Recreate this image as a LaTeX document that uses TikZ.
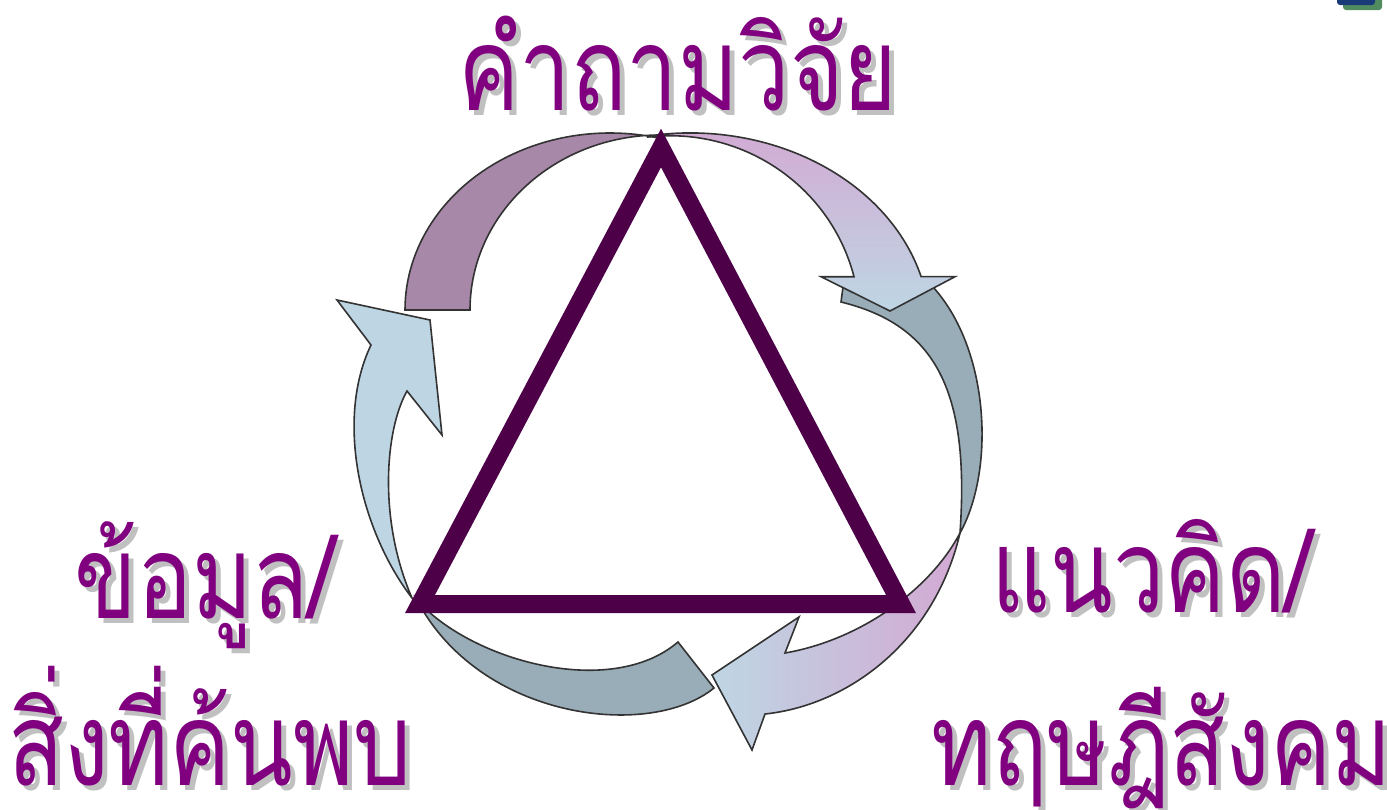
\documentclass[tikz,border=0pt]{standalone}
\usepackage{fontspec}
\newfontfamily\thaifont[Script=Thai,FakeStretch=0.79]{Loma}
\definecolor{tri}{RGB}{77,0,72}
\definecolor{tpurple}{RGB}{128,0,128}
\definecolor{shgray}{RGB}{192,192,192}
\definecolor{mauve}{RGB}{168,136,168}
\definecolor{pinkA}{RGB}{211,169,211}
\definecolor{blueA}{RGB}{190,214,228}
\definecolor{grayB}{RGB}{153,173,184}
\definecolor{edgec}{RGB}{51,51,51}
\definecolor{logoblue}{RGB}{25,60,120}
\definecolor{logogreen}{RGB}{80,140,95}
\newcommand\shtext[1]{\makebox[0pt][l]{\hspace{5pt}\raisebox{-5pt}{\textcolor{shgray}{#1}}}#1}
\begin{document}
\begin{tikzpicture}[x=1pt,y=-1pt,
  band/.style={draw=edgec,line width=1.6pt,line join=miter},
  trio/.style={draw=tri,line width=18pt,line join=miter,miter limit=10},
  lbl/.style={font=\thaifont\fontsize{116}{140}\selectfont,text=tpurple,inner sep=0pt,anchor=base,text depth=0pt}]
\useasboundingbox (0,0) rectangle (1387,809);
% logo fragment
\fill[logogreen,rounded corners=3pt] (1343,-4) rectangle (1382,10);
\fill[logoblue,rounded corners=3pt] (1337,-8) rectangle (1375,5);
% gray right band
\path[band,fill=grayB] (843,287) -- (841,302)
  .. controls (935,325) and (970,390) .. (960,533)
  .. controls (995,470) and (990,350) .. (933,287)
  -- cycle;
% gray bottom band
\path[band,fill=grayB] (417,600)
  .. controls (470,660) and (610,700) .. (678,642)
  -- (714,688)
  .. controls (650,740) and (480,720) .. (417,600)
  -- cycle;
% mauve top-left band
\path[band,fill=mauve] (405,310) arc[start angle=180,end angle=284,x radius=205,y radius=177]
  -- (660,135) arc[start angle=270,end angle=180,x radius=190,y radius=175] -- cycle;
% top-right arrow
\path[band,top color=pinkA,bottom color=blueA]
  (660,134.5) arc[start angle=262.8,end angle=344.3,x radius=240,y radius=197]
  -- (955,276.7) -- (890,311) -- (821,276.7) -- (854,276.7)
  arc[start angle=345.6,end angle=263,x radius=190,y radius=187.6] -- cycle;
% left arrow
\path[band,fill=blueA] (371,345) -- (337,300) -- (430,320) -- (442,435) -- (407,391)
  .. controls (385,430) and (378,520) .. (412,598)
  .. controls (360,530) and (335,420) .. (371,345)
  -- cycle;
% bottom-right arrow
\path[band,left color=blueA,right color=pinkA] (960,533)
  .. controls (935,640) and (850,705) .. (765,714)
  -- (752,750) -- (712,675) -- (799,617) -- (785,653)
  .. controls (860,640) and (930,590) .. (960,533)
  -- cycle;
% triangle
\draw[trio] (661,148) -- (420,604) -- (901,604) -- cycle;
% labels
\node[lbl] (q) at (678,110) {\shtext{คำถามวิจัย}};
\node[lbl] (l1) at (205,618) {\shtext{ข้อมูล/}};
\node[lbl] (l2) at (210,785) {\shtext{สิ่งที่ค้นพบ}};
\node[lbl] (r1) at (1152,612) {\shtext{แนวคิด/}};
\node[lbl] (r2) at (1162,785) {\shtext{ทฤษฎีสังคม}};
\end{tikzpicture}
\end{document}
